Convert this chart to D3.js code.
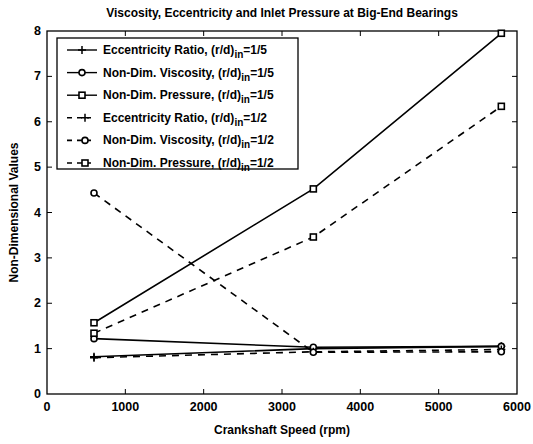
<!DOCTYPE html>
<html>
<head>
<meta charset="utf-8">
<script src="https://cdn.jsdelivr.net/npm/d3@7"></script>
<style>
  body { margin: 0; background: #fff; }
  svg text { font-family: "Liberation Sans", Arial, sans-serif; fill: #000; }
</style>
</head>
<body>
<svg id="chart"></svg>
<script>
const speeds = [600, 3400, 5800];

const eccFifth  = [0.82, 1.0, 1.05];
const viscFifth = [1.22, 1.03, 1.05];
const presFifth = [1.57, 4.52, 7.95];
const eccHalf   = [0.80, 0.93, 0.98];
const viscHalf  = [4.43, 0.92, 0.93];
const presHalf  = [1.34, 3.46, 6.34];

const xTicks = [0, 1000, 2000, 3000, 4000, 5000, 6000];
const yTicks = [0, 1, 2, 3, 4, 5, 6, 7, 8];

const seriesNames = ["Eccentricity Ratio", "Non-Dim. Viscosity", "Non-Dim. Pressure",
                     "Eccentricity Ratio", "Non-Dim. Viscosity", "Non-Dim. Pressure"];
const ratioLabels = ["1/5", "1/5", "1/5", "1/2", "1/2", "1/2"];
const markers = ["plus", "circle", "square", "plus", "circle", "square"];
const dashed = [false, false, false, true, true, true];
const allValues = [eccFifth, viscFifth, presFifth, eccHalf, viscHalf, presHalf];

const W = 533, H = 444;
const margin = {top: 31, right: 16, bottom: 50, left: 47};
const width = W - margin.left - margin.right,
      height = H - margin.top - margin.bottom;

const svg = d3.select("#chart").attr("width", W).attr("height", H);
const g = svg.append("g").attr("transform", "translate(" + margin.left + "," + margin.top + ")");

const x = d3.scaleLinear().domain([0, 6000]).range([0, width]);
const y = d3.scaleLinear().domain([0, 8]).range([height, 0]);

// box
g.append("rect").attr("width", width).attr("height", height)
  .attr("fill", "none").attr("stroke", "#000").attr("stroke-width", 1.3);

// inward ticks on all sides
const tickLen = 5;
g.selectAll(".xt").data(xTicks.slice(1, -1)).enter().append("line")
  .attr("x1", d => x(d)).attr("x2", d => x(d)).attr("y1", height).attr("y2", height - tickLen)
  .attr("stroke", "#000");
g.selectAll(".xtt").data(xTicks.slice(1, -1)).enter().append("line")
  .attr("x1", d => x(d)).attr("x2", d => x(d)).attr("y1", 0).attr("y2", tickLen)
  .attr("stroke", "#000");
g.selectAll(".yt").data(yTicks.slice(1, -1)).enter().append("line")
  .attr("y1", d => y(d)).attr("y2", d => y(d)).attr("x1", 0).attr("x2", tickLen)
  .attr("stroke", "#000");
g.selectAll(".ytr").data(yTicks.slice(1, -1)).enter().append("line")
  .attr("y1", d => y(d)).attr("y2", d => y(d)).attr("x1", width).attr("x2", width - tickLen)
  .attr("stroke", "#000");

// tick labels
g.selectAll(".xl").data(xTicks).enter().append("text")
  .attr("x", d => x(d)).attr("y", height + 17)
  .attr("text-anchor", "middle").attr("font-size", 12.5).attr("font-weight", "bold")
  .text(d => d);
g.selectAll(".yl").data(yTicks).enter().append("text")
  .attr("x", -6).attr("y", d => y(d) + 4)
  .attr("text-anchor", "end").attr("font-size", 12.5).attr("font-weight", "bold")
  .text(d => d);

// titles
svg.append("text").attr("x", margin.left + width / 2).attr("y", 17)
  .attr("text-anchor", "middle").attr("font-size", 12).attr("font-weight", "bold")
  .text("Viscosity, Eccentricity and Inlet Pressure at Big-End Bearings");
svg.append("text").attr("x", margin.left + width / 2).attr("y", H - 10)
  .attr("text-anchor", "middle").attr("font-size", 12).attr("font-weight", "bold")
  .text("Crankshaft Speed (rpm)");
svg.append("text")
  .attr("transform", "translate(18," + (margin.top + height / 2) + ") rotate(-90)")
  .attr("text-anchor", "middle").attr("font-size", 12).attr("font-weight", "bold")
  .text("Non-Dimensional Values");

function drawMarker(sel, type, cx, cy) {
  if (type === "plus") {
    sel.append("path").attr("d", `M${cx - 4},${cy}H${cx + 4}M${cx},${cy - 4}V${cy + 4}`)
      .attr("stroke", "#000").attr("stroke-width", 1.5).attr("fill", "none");
  } else if (type === "circle") {
    sel.append("circle").attr("cx", cx).attr("cy", cy).attr("r", 3)
      .attr("stroke", "#000").attr("stroke-width", 1.6).attr("fill", "#fff");
  } else {
    sel.append("rect").attr("x", cx - 3).attr("y", cy - 3).attr("width", 6).attr("height", 6)
      .attr("stroke", "#000").attr("stroke-width", 1.6).attr("fill", "#fff");
  }
}

const line = d3.line().x((d, i) => x(speeds[i])).y(d => y(d));

allValues.forEach((vals, k) => {
  const s = g.append("g");
  s.append("path").datum(vals).attr("d", line)
    .attr("fill", "none").attr("stroke", "#000").attr("stroke-width", 1.6)
    .attr("stroke-dasharray", dashed[k] ? "7,6" : null);
  vals.forEach((v, i) => drawMarker(s, markers[k], x(speeds[i]), y(v)));
});

// legend
const lg = g.append("g").attr("transform", "translate(10,7)");
lg.append("rect").attr("width", 241).attr("height", 131)
  .attr("fill", "#fff").attr("stroke", "#000").attr("stroke-width", 1.3);
seriesNames.forEach((name, k) => {
  const ry = 12 + k * 22.6;
  const row = lg.append("g");
  if (dashed[k]) {
    row.append("line").attr("x1", 10).attr("x2", 34).attr("y1", ry).attr("y2", ry)
      .attr("stroke", "#000").attr("stroke-width", 1.6).attr("stroke-dasharray", "5,5");
  } else {
    row.append("line").attr("x1", 10).attr("x2", 40).attr("y1", ry).attr("y2", ry)
      .attr("stroke", "#000").attr("stroke-width", 1.4);
  }
  drawMarker(row, markers[k], dashed[k] ? 28 : 25, ry);
  const t = row.append("text").attr("x", 46).attr("y", ry + 4)
    .attr("font-size", 12).attr("font-weight", "bold");
  t.append("tspan").text(name + ", (r/d)");
  t.append("tspan").attr("dy", 4).attr("font-size", 10).text("in");
  t.append("tspan").attr("dy", -4).text("=" + ratioLabels[k]);
});
</script>
</body>
</html>
